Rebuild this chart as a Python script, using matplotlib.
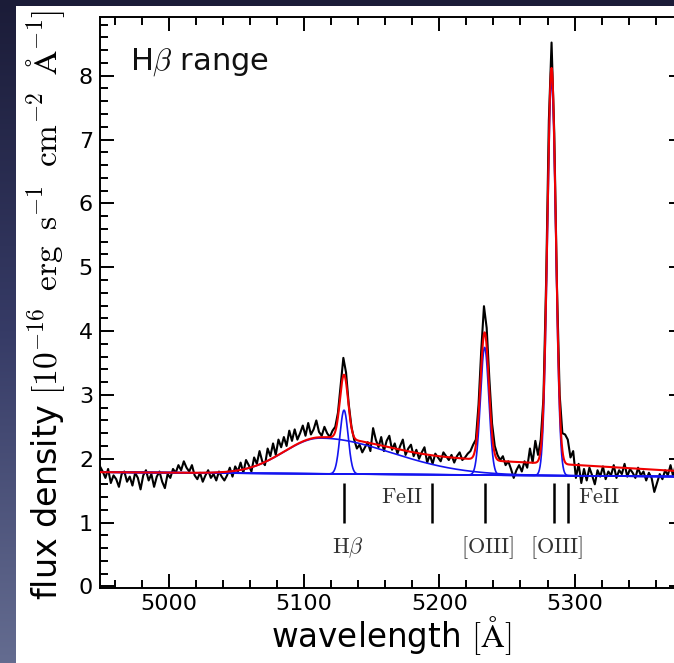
import numpy as np
import matplotlib
matplotlib.use("Agg")
import matplotlib.pyplot as plt
from matplotlib.patches import Rectangle
from matplotlib.ticker import MultipleLocator
from matplotlib.colors import LinearSegmentedColormap

plt.rcParams["mathtext.fontset"] = "cm"
plt.rcParams["font.family"] = "DejaVu Sans"

# ---------------------------------------------------------------------------
# Observed spectrum (flux density, 1e-16 erg/s/cm^2/A), sampled every 2 A
# ---------------------------------------------------------------------------
wave_start = 4949.0
wave_step = 2.0
flux = [
    # 4949 - 5041
    1.88, 1.80, 1.70, 1.84, 1.62, 1.74, 1.68, 1.56, 1.76, 1.80,
    1.64, 1.72, 1.58, 1.78, 1.70, 1.52, 1.74, 1.82, 1.66, 1.76,
    1.56, 1.72, 1.80, 1.64, 1.54, 1.76, 1.70, 1.84, 1.78, 1.90,
    1.82, 1.96, 1.86, 1.80, 1.90, 1.74, 1.68, 1.78, 1.64, 1.74,
    1.82, 1.70, 1.76, 1.66, 1.80, 1.72, 1.66,
    # 5043 - 5111
    1.74, 1.86, 1.72, 1.88, 1.80, 1.94, 1.78, 1.98, 1.90, 1.80,
    2.02, 1.92, 2.12, 1.96, 1.90, 2.16, 2.04, 2.24, 2.06, 2.30,
    2.18, 2.34, 2.20, 2.44, 2.28, 2.46, 2.30, 2.40, 2.52, 2.36,
    2.56, 2.38, 2.46, 2.60, 2.42,
    # 5113 - 5153 (H-beta)
    2.36, 2.50, 2.40, 2.34, 2.44, 2.50, 2.72, 3.15, 3.58, 3.35,
    2.85, 2.50, 2.30, 2.16, 2.22, 2.10, 2.18, 2.26, 2.12, 2.48, 2.30,
    # 5155 - 5225
    2.18, 2.34, 2.12, 2.28, 2.36, 2.14, 2.24, 2.08, 2.20, 2.30,
    2.06, 2.16, 2.22, 2.04, 2.14, 2.00, 2.10, 2.18, 1.94, 2.06,
    1.92, 2.08, 2.02, 1.96, 2.10, 2.04, 1.98, 2.06, 1.94, 2.04,
    2.10, 1.98, 2.02, 2.08, 2.12, 2.22,
    # 5227 - 5243 ([OIII] 4959)
    2.30, 2.85, 3.70, 4.39, 4.05, 3.25, 2.55, 2.20, 2.06,
    # 5245 - 5273
    1.98, 2.04, 1.90, 1.96, 1.84, 1.70, 1.82, 1.90, 1.80, 1.96,
    1.86, 2.16, 1.94, 2.28, 2.06,
    # 5275 - 5299 ([OIII] 5007)
    2.30, 2.95, 4.80, 7.30, 8.52, 7.10, 4.70, 3.00, 2.40, 2.38,
    2.30, 2.02, 2.12,
    # 5301 - 5381
    1.70, 1.92, 1.62, 1.84, 1.66, 1.86, 1.74, 1.60, 1.82, 1.72,
    1.88, 1.68, 1.80, 1.74, 1.90, 1.70, 1.82, 1.76, 1.92, 1.72,
    1.84, 1.78, 1.70, 1.86, 1.74, 1.80, 1.66, 1.78, 1.70, 1.48,
    1.62, 1.76, 1.68, 1.82, 1.74, 1.90, 1.72, 1.94, 1.80, 1.96,
    1.88,
]
wave = wave_start + wave_step * np.arange(len(flux))

# ---------------------------------------------------------------------------
# Fit components
# ---------------------------------------------------------------------------
cont_waves = [4949.0, 5381.0]
cont_levels = [1.79, 1.72]

broad_center, broad_amp = 5112.0, 0.56
broad_sigma_blue, broad_sigma_red = 27.0, 52.4

feii_center, feii_amp = 5240.0, 0.20
feii_sigma_blue, feii_sigma_red = 54.8, 104.9

narrow_centers = [5129.5, 5233.5, 5283.0]   # H-beta, [OIII]4959, [OIII]5007
narrow_amps = [1.00, 2.00, 6.20]
narrow_sigmas = [3.0, 3.1, 3.1]

# line identifications
marker_waves = [5129.5, 5194.5, 5233.5, 5284.5, 5295.5]
marker_lo, marker_hi = 1.0, 1.62
label_texts = [r"$\mathrm{H}\beta$", r"$\mathrm{FeII}$", r"$[\mathrm{OIII}]$",
               r"$[\mathrm{OIII}]$", r"$\mathrm{FeII}$"]
label_x = [5132.5, 5188.0, 5235.5, 5287.0, 5302.5]
label_y = [0.60, 1.40, 0.60, 0.60, 1.40]
label_ha = ["center", "right", "center", "center", "left"]


def split_gauss(x, c, a, s_blue, s_red):
    s = np.where(x < c, s_blue, s_red)
    return a * np.exp(-0.5 * ((x - c) / s) ** 2)


grid = np.arange(4949.0, 5381.01, 0.25)
cont = np.interp(grid, cont_waves, cont_levels)
broad = split_gauss(grid, broad_center, broad_amp, broad_sigma_blue, broad_sigma_red)
feii = split_gauss(grid, feii_center, feii_amp, feii_sigma_blue, feii_sigma_red)
narrow = [split_gauss(grid, c, a, s, s)
          for c, a, s in zip(narrow_centers, narrow_amps, narrow_sigmas)]
total = cont + broad + feii + np.sum(narrow, axis=0)

# ---------------------------------------------------------------------------
# Figure
# ---------------------------------------------------------------------------
W, H = 674, 663
fig = plt.figure(figsize=(W / 100, H / 100), dpi=100, facecolor="white")

# dark slide frame along the left and top edges
strip = fig.add_axes([0, 0, 16 / W, 1])
grad = np.linspace(0, 1, 256).reshape(-1, 1)
cmap = LinearSegmentedColormap.from_list("frame", ["#1b1c38", "#363b66", "#646c90"])
strip.imshow(grad, aspect="auto", cmap=cmap, extent=[0, 1, 0, 1], origin="upper")
strip.set_axis_off()
fig.add_artist(Rectangle((0, 1 - 6 / H), 1, 6 / H, transform=fig.transFigure,
                         facecolor="#1b1c38", edgecolor="none", zorder=5))

ax_left, ax_right = 100, 682.7
ax_top, ax_bottom = 17, 587.7
ax = fig.add_axes([ax_left / W, 1 - ax_bottom / H,
                   (ax_right - ax_left) / W, (ax_bottom - ax_top) / H])

ax.plot(wave, flux, color="black", lw=1.5, zorder=2)
ax.plot(grid, cont, color="#1414f0", lw=1.2, zorder=3)
ax.plot(grid, cont + broad, color="#1414f0", lw=1.2, zorder=3)
for comp in narrow:
    ax.plot(grid, cont + comp, color="#1414f0", lw=1.2, zorder=3)
ax.plot(grid, total, color="#f00000", lw=1.5, zorder=4)

ax.vlines(marker_waves, marker_lo, marker_hi, color="black", lw=1.8, zorder=3)
for t, x, y, ha in zip(label_texts, label_x, label_y, label_ha):
    ax.text(x, y, t, ha=ha, va="center", fontsize=16, color="#333333")

ax.text(0.052, 0.907, r"H$\beta$ range", transform=ax.transAxes,
        fontsize=22, ha="left", va="baseline", color="#111111")

ax.set_xlim(4949, 5380)
ax.set_ylim(-0.02, 8.92)
ax.xaxis.set_major_locator(MultipleLocator(100))
ax.xaxis.set_minor_locator(MultipleLocator(20))
ax.yaxis.set_major_locator(MultipleLocator(1))
ax.yaxis.set_minor_locator(MultipleLocator(0.2))
ax.tick_params(which="both", direction="in", top=True, right=True,
               width=1.4, colors="black", labelsize=16)
ax.tick_params(which="major", length=10)
ax.tick_params(which="minor", length=6)
ax.tick_params(axis="x", pad=4.5)
ax.tick_params(axis="y", pad=5)
for sp in ax.spines.values():
    sp.set_linewidth(1.4)

ax.set_xlabel(r"wavelength $[\mathrm{\AA}]$", fontsize=23.5)
ax.xaxis.set_label_coords(0.5, -0.046)
ax.set_ylabel(r"flux density $[10^{-16}\;\;\mathrm{erg}\;\;\mathrm{s^{-1}}"
              r"\;\;\mathrm{cm^{-2}}\;\;\mathrm{\AA^{-1}}]$", fontsize=24)
ax.yaxis.set_label_coords(-0.057, 0.495)

fig.savefig("out.png", dpi=100, facecolor="white")
